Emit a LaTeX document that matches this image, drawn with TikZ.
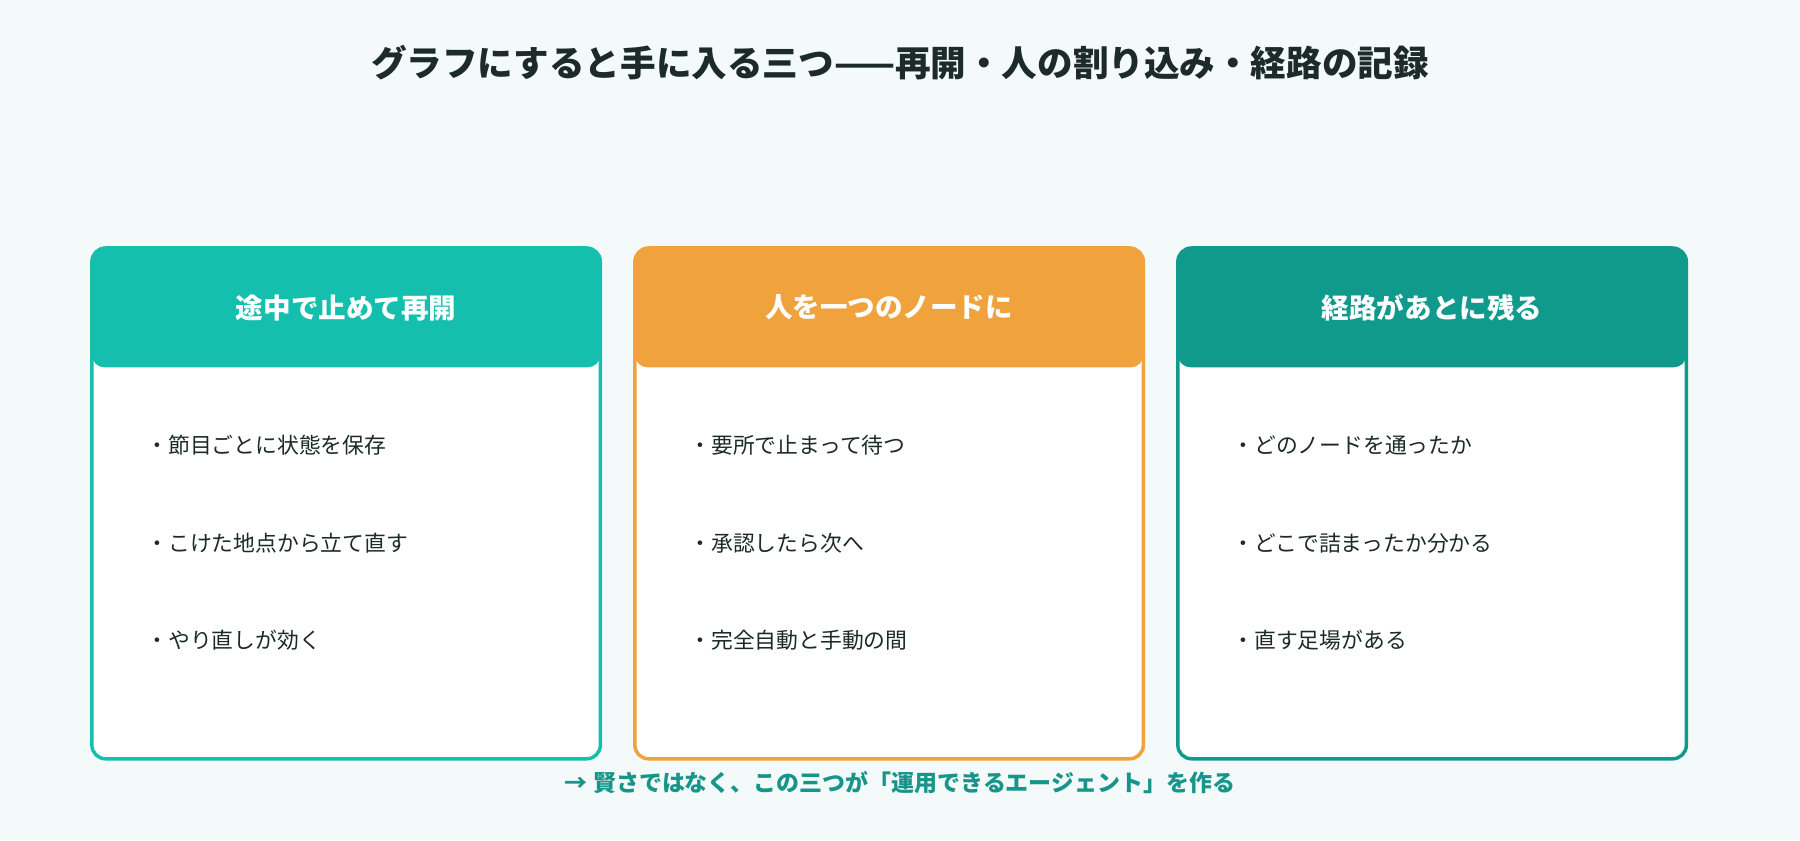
\documentclass[tikz,border=0pt]{standalone}
\usepackage{fontspec}
\setmainfont{Noto Sans CJK JP}
\usepackage{tikz}
\definecolor{bgmint}{HTML}{F3FAF9}
\definecolor{titleink}{HTML}{1C2B28}
\definecolor{cardteal}{HTML}{14BFAE}
\definecolor{cardorange}{HTML}{F0A23C}
\definecolor{carddeep}{HTML}{0F9A8C}
\definecolor{footink}{HTML}{17958A}
\tikzset{
  card/.style={draw=#1, line width=3pt, fill=white, rounded corners=12pt},
  cardhead/.style={fill=#1, rounded corners=11pt},
  headtext/.style={text=white, font=\fontsize{24}{28}\selectfont\bfseries},
  bullet/.style={anchor=west, text=titleink, font=\fontsize{19}{23}\selectfont}
}

\begin{document}
\begin{tikzpicture}[x=1pt, y=-1pt]
    % background
    \fill[bgmint] (0,0) rectangle (1568,732);
    \useasboundingbox (0,0) rectangle (1568,732);

    % title
    \node[text=titleink, font=\fontsize{31}{36}\selectfont\bfseries] (title) at (784,55)
        {グラフにすると手に入る三つ——再開・人の割り込み・経路の記録};

    % cards
    \foreach \i/\xl/\col/\head/\ba/\bb/\bc in {
        1/80/cardteal/途中で止めて再開/節目ごとに状態を保存/こけた地点から立て直す/やり直しが効く,
        2/553/cardorange/人を一つのノードに/要所で止まって待つ/承認したら次へ/完全自動と手動の間,
        3/1026/carddeep/経路があとに残る/どのノードを通ったか/どこで詰まったか分かる/直す足場がある} {
        \fill[white, rounded corners=12pt] (\xl,216) rectangle ++(443,445);
        \fill[cardhead=\col] (\xl,216) rectangle ++(443,104);
        \draw[card=\col, fill=none] (\xl,216) rectangle ++(443,445);
        \node[headtext] (head\i) at (\xl+221.5,268) {\head};
        \node[bullet] (item\i a) at (\xl+44,388) {・\ba};
        \node[bullet] (item\i b) at (\xl+44,473) {・\bb};
        \node[bullet] (item\i c) at (\xl+44,558) {・\bc};
    }

    % footer
    \node[text=footink, font=\fontsize{20}{24}\selectfont\bfseries] (footer) at (784,682)
        {→ 賢さではなく、この三つが「運用できるエージェント」を作る};
\end{tikzpicture}
\end{document}
